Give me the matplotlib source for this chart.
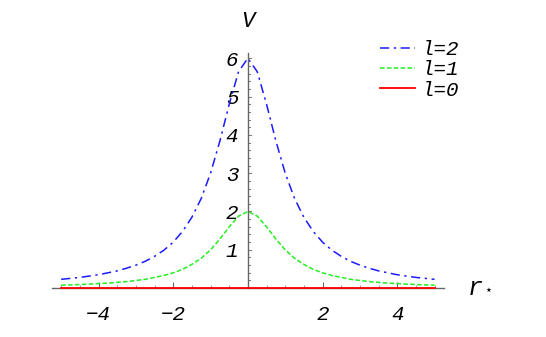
import matplotlib.pyplot as plt
import numpy as np

# r* sample positions and potential values
r_star = np.arange(-5, 5.001, 0.25)
v_half_l2 = [6.0, 5.65, 4.8, 3.84, 3.0, 2.34, 1.85, 1.48, 1.2, 0.99, 0.83,
             0.70, 0.60, 0.52, 0.45, 0.40, 0.35, 0.315, 0.28, 0.255, 0.23]
v_half_l1 = [2.0, 1.88, 1.6, 1.28, 1.0, 0.78, 0.62, 0.49, 0.40, 0.33, 0.28,
             0.23, 0.20, 0.17, 0.15, 0.13, 0.12, 0.105, 0.094, 0.085, 0.077]
v_l2 = v_half_l2[::-1] + v_half_l2[1:]
v_l1 = v_half_l1[::-1] + v_half_l1[1:]
v_l0 = [0.0] * len(r_star)

labels = ['l=2', 'l=1', 'l=0']
xtick_vals = [-4, -2, 2, 4]
xtick_text = ['\u22124', '\u22122', '2', '4']
ytick_vals = [1, 2, 3, 4, 5, 6]

font = 'Liberation Mono'
plt.rcParams['font.family'] = font
plt.rcParams['font.style'] = 'italic'

fig = plt.figure(figsize=(5.46, 3.37), dpi=100)
ax = fig.add_axes([0.095, 0.145, 0.718, 0.697])

ax.plot(r_star, v_l2, color='#1a1aff', lw=1.1, dashes=(6, 3, 1.5, 3),
        label=labels[0])
ax.plot(r_star, v_l1, color='#22ee22', lw=1.1, dashes=(3, 1.5),
        label=labels[1])
ax.plot(r_star, v_l0, color='#ff0000', lw=1.3, label=labels[2],
        clip_on=False, zorder=5)

ax.set_xlim(-5.25, 5.25)
ax.set_ylim(0, 6.13)

for s in ['top', 'right']:
    ax.spines[s].set_visible(False)
ax.spines['left'].set_position(('data', 0))
ax.spines['bottom'].set_position(('data', 0))
for s in ['left', 'bottom']:
    ax.spines[s].set_color('#666666')
    ax.spines[s].set_linewidth(1.0)

ax.set_xticks(xtick_vals)
ax.set_xticklabels(xtick_text)
ax.set_xticks(np.arange(-5, 5.01, 0.5), minor=True)
ax.set_yticks(ytick_vals)
ax.tick_params(axis='both', which='major', direction='in', length=4,
               width=0.8, color='#666666', labelsize=15)
ax.tick_params(axis='both', which='minor', direction='in', length=2.5,
               width=0.6, color='#888888')
ax.tick_params(axis='x', which='major', pad=12)
ax.tick_params(axis='y', which='major', pad=7)
ax.tick_params(axis='y', which='both', left=False, right=False)
# y ticks drawn on the right side of the vertical axis
for t in np.arange(0.2, 6.01, 0.2):
    major = abs(t - round(t)) < 1e-6
    ax.plot([0, 0.09 if major else 0.055], [t, t], color='#777777',
            lw=0.7, zorder=1)

ax.text(0, 6.95, 'V', ha='center', va='center', fontsize=16,
        clip_on=False)
ax.text(6.1, 0.0, 'r', ha='center', va='center', fontsize=18,
        clip_on=False)
ax.text(6.45, -0.05, '\u22c6', ha='center', va='center', fontsize=9,
        clip_on=False, family='DejaVu Sans')

ax.legend(loc='upper left', bbox_to_anchor=(0.815, 1.09), frameon=False,
          fontsize=15, handlelength=1.7, handletextpad=0.3,
          labelspacing=0.05, borderaxespad=0)

fig.savefig('out.png', dpi=100)
